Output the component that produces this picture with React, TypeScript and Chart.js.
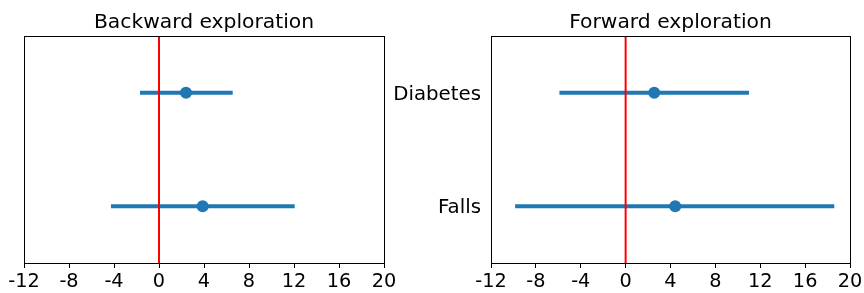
import React, { useEffect, useRef } from "react";
import { Chart, registerables } from "chart.js";

Chart.register(...registerables);

const categories = ["Diabetes", "Falls"];
const xTickValues = [-12, -8, -4, 0, 4, 8, 12, 16, 20];

const backwardEstimate = [2.4, 3.88];
const backwardLower = [-1.69, -4.27];
const backwardUpper = [6.55, 12.06];

const forwardEstimate = [2.55, 4.42];
const forwardLower = [-5.9, -9.85];
const forwardUpper = [11.0, 18.6];

const FONT = "'DejaVu Sans', 'Liberation Sans', sans-serif";
const BLUE = "#1f77b4";

type PanelProps = {
  title: string;
  est: number[];
  lo: number[];
  hi: number[];
  showLabels: boolean;
  width: number;
  left: number;
  padding: { left: number; right: number; top: number; bottom: number };
  yWidth: number;
};

function makeConfig(p: PanelProps): any {
  const datasets: any[] = [];
  categories.forEach((_, i) => {
    datasets.push({
      data: [
        { x: p.lo[i], y: i },
        { x: p.hi[i], y: i },
      ],
      showLine: true,
      borderColor: BLUE,
      borderWidth: 4,
      borderCapStyle: "butt",
      pointRadius: 0,
      order: 3,
    });
  });
  datasets.push({
    data: [
      { x: 0, y: -0.5 },
      { x: 0, y: 1.5 },
    ],
    showLine: true,
    borderColor: "#ff0000",
    borderWidth: 2,
    pointRadius: 0,
    order: 2,
  });
  datasets.push({
    data: p.est.map((v, i) => ({ x: v, y: i })),
    showLine: false,
    pointRadius: 6,
    pointBackgroundColor: BLUE,
    pointBorderWidth: 0,
    backgroundColor: BLUE,
    borderColor: BLUE,
    order: 1,
  });

  const titlePlugin = {
    id: "panelTitle",
    afterDraw(chart: any) {
      const { ctx, chartArea } = chart;
      ctx.save();
      ctx.strokeStyle = "#000";
      ctx.lineWidth = 1;
      ctx.strokeRect(
        chartArea.left + 0.5,
        chartArea.top + 0.5,
        chartArea.right - chartArea.left,
        chartArea.bottom - chartArea.top
      );
      ctx.fillStyle = "#000";
      ctx.font = `20.3px ${FONT}`;
      ctx.textAlign = "center";
      ctx.textBaseline = "alphabetic";
      ctx.fillText(p.title, (chartArea.left + chartArea.right) / 2, 28.3);
      ctx.restore();
    },
  };

  return {
    type: "scatter",
    data: { datasets },
    plugins: [titlePlugin],
    options: {
      animation: false,
      responsive: false,
      devicePixelRatio: 1,
      layout: { padding: p.padding },
      plugins: {
        legend: { display: false },
        tooltip: { enabled: false },
        title: { display: false },
      },
      scales: {
        x: {
          type: "linear",
          min: -12,
          max: 20,
          afterBuildTicks: (s: any) => {
            s.ticks = xTickValues.map((v) => ({ value: v }));
          },
          afterFit: (s: any) => {
            s.height = 30;
          },
          ticks: {
            autoSkip: false,
            maxRotation: 0,
            minRotation: 0,
            padding: 0,
            color: "#000",
            font: { family: FONT, size: 19.3, lineHeight: 1.48 },
            callback: (v: any) => String(v),
          },
          grid: {
            display: true,
            drawOnChartArea: false,
            drawTicks: true,
            tickLength: 5,
            color: "#000",
            lineWidth: 1,
          },
          border: { display: false },
        },
        y: {
          type: "linear",
          reverse: true,
          min: -0.5,
          max: 1.5,
          display: p.showLabels,
          afterBuildTicks: (s: any) => {
            s.ticks = categories.map((_, i) => ({ value: i }));
          },
          afterFit: (s: any) => {
            s.width = p.yWidth;
          },
          ticks: {
            padding: 10,
            labelOffset: 2,
            color: "#000",
            font: { family: FONT, size: 19.8 },
            callback: (v: any) => categories[Math.round(Number(v))] ?? "",
          },
          grid: { display: false, drawTicks: false },
          border: { display: false },
        },
      },
    },
  };
}

function Panel(p: PanelProps) {
  const ref = useRef<HTMLCanvasElement | null>(null);
  useEffect(() => {
    if (!ref.current) return;
    const chart = new Chart(ref.current, makeConfig(p));
    return () => chart.destroy();
  }, []);
  return (
    <canvas
      ref={ref}
      width={p.width}
      height={293}
      style={{
        position: "absolute",
        left: p.left,
        top: 0,
        width: p.width,
        height: 293,
        display: "block",
      }}
    />
  );
}

export default function App() {
  return (
    <div
      style={{
        position: "absolute",
        left: 0,
        top: 0,
        width: 864,
        height: 293,
        background: "#fff",
        overflow: "hidden",
      }}
    >
      <Panel
        title="Backward exploration"
        est={backwardEstimate}
        lo={backwardLower}
        hi={backwardUpper}
        showLabels={false}
        width={432}
        left={0}
        padding={{ left: 24, right: 48, top: 36, bottom: 0 }}
        yWidth={0}
      />
      <Panel
        title="Forward exploration"
        est={forwardEstimate}
        lo={forwardLower}
        hi={forwardUpper}
        showLabels={true}
        width={484}
        left={380}
        padding={{ left: 0, right: 14, top: 36, bottom: 0 }}
        yWidth={111}
      />
    </div>
  );
}
